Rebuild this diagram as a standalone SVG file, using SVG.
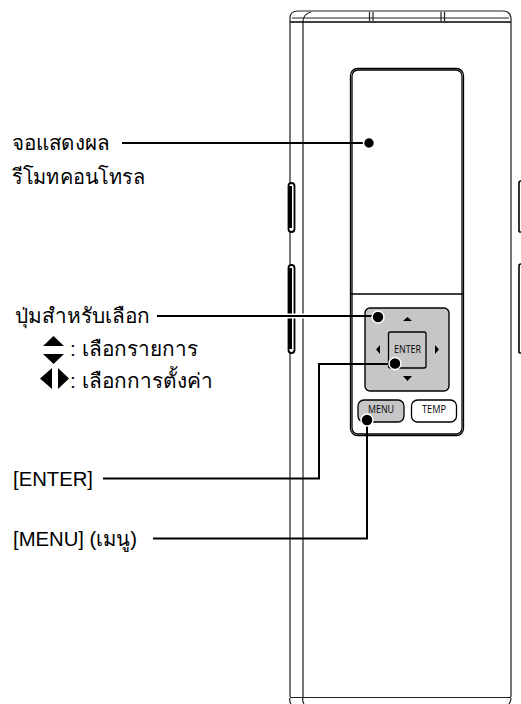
<svg xmlns="http://www.w3.org/2000/svg" width="521" height="704" viewBox="0 0 521 704">
<style>
.l{fill:none;stroke:#222;stroke-width:1.2}
.g{fill:none;stroke:#555;stroke-width:1.6}
.k{fill:none;stroke:#000;stroke-width:1.7}
.t{font-family:"Liberation Sans","DejaVu Sans",sans-serif;font-size:20.800px;fill:#000}
.e{font-family:"Liberation Sans","DejaVu Sans",sans-serif;font-size:20.300px;fill:#000}
.b{font-family:"Open Sans","Liberation Sans",sans-serif;font-size:10.500px;fill:#000}
.c{fill:none;stroke:#000;stroke-width:2}
.h{fill:none;stroke:#fff;stroke-width:5}
.d{fill:#000;stroke:#fff;stroke-width:1.5}
</style>
<rect width="521" height="704" fill="#fff"/>
<g id="body">
<path class="l" d="M290 22V18Q290 11 298 11H503Q510 11 511 18V22"/>
<path class="l" d="M303 22Q303 14 311 12"/>
<path class="g" d="M290 22V697M303 22V697M511 22V697"/>
<path class="l" d="M292 18H509"/>
<path class="k" d="M290 22H511"/>
<path class="l" d="M369.500 12V21M373 12V21M441 12V21M444.500 12V21"/>
<path class="l" d="M290 697.500H511"/>
<path class="l" d="M290 698Q289 701 291 704M303 698Q302 701 304 704M511 698Q511 701 509 704"/>
</g>
<g id="side-buttons">
<rect x="288.500" y="183" width="6" height="49" rx="3" fill="#fff" stroke="#000" stroke-width="1.800"/>
<rect x="288.500" y="265" width="6" height="88" rx="3" fill="#fff" stroke="#000" stroke-width="1.800"/>
<path d="M290.500 186V228M290.500 268V349" fill="none" stroke="#000" stroke-width="3"/>
<path d="M519 232V183Q519 181 521 181M521 232H519M519 353V266Q519 264 521 264M521 353H519" fill="none" stroke="#000" stroke-width="1.600"/>
</g>
<g id="panel">
<rect x="350.500" y="68.500" width="113" height="367" rx="7" fill="#fff" stroke="#000" stroke-width="1.300"/>
<rect x="352" y="70" width="110" height="364" rx="6" fill="none" stroke="#000" stroke-width="1.300"/>
<path class="k" d="M351 294H463"/>
</g>
<g id="dpad">
<rect x="365" y="308" width="84" height="83" rx="5" fill="#c6c6c6" stroke="#000" stroke-width="1.400"/>
<rect x="388.500" y="332" width="37.500" height="36" rx="2" fill="none" stroke="#000" stroke-width="1.300"/>
<text class="b" x="394" y="353" textLength="27" lengthAdjust="spacingAndGlyphs">ENTER</text>
<path d="M403 321L407.500 317L412 321ZM403 376H412L407.500 381ZM380 345V354L376 349.500ZM435 345V354L439 349.500Z" fill="#000"/>
</g>
<g id="menu-button">
<rect x="358" y="400" width="46" height="22" rx="6" fill="#c6c6c6" stroke="#000" stroke-width="1.300"/>
<text class="b" x="368" y="413" textLength="26" lengthAdjust="spacingAndGlyphs">MENU</text>
</g>
<g id="temp-button">
<rect x="411.500" y="400" width="45" height="22" rx="6" fill="#fff" stroke="#000" stroke-width="1.300"/>
<text class="b" x="422" y="413" textLength="24" lengthAdjust="spacingAndGlyphs">TEMP</text>
</g>
<g id="connectors">
<path class="h" d="M285 316H308"/>
<path class="c" d="M122 143H369"/>
<path class="c" d="M157 316H378"/>
<path class="c" d="M103 478.500H319V364H395"/>
<path class="c" d="M153 538.500H367V420"/>
<circle class="d" cx="369" cy="143" r="5.500"/>
<circle class="d" cx="378" cy="317" r="6"/>
<circle class="d" cx="395" cy="363.500" r="6"/>
<circle class="d" cx="367" cy="420" r="6"/>
</g>
<g id="labels">
<text class="t" x="12" y="150" textLength="98" lengthAdjust="spacingAndGlyphs">จอแสดงผล</text>
<text class="t" x="12" y="184" textLength="133" lengthAdjust="spacingAndGlyphs">รีโมทคอนโทรล</text>
<text class="t" x="15" y="323">ปุ่มสำหรับเลือก</text>
<text class="t" x="70" y="356">: เลือกรายการ</text>
<text class="t" x="70" y="388">: เลือกการตั้งค่า</text>
<text class="e" x="13" y="486">[ENTER]</text>
<text class="e" x="13" y="546">[MENU] (เมนู)</text>
<path d="M43 346L53.500 336L64 346ZM43 354H64L53.500 364ZM52 368V389L40 378.500ZM58 368V389L69 378.500Z" fill="#000"/>
</g>
</svg>
